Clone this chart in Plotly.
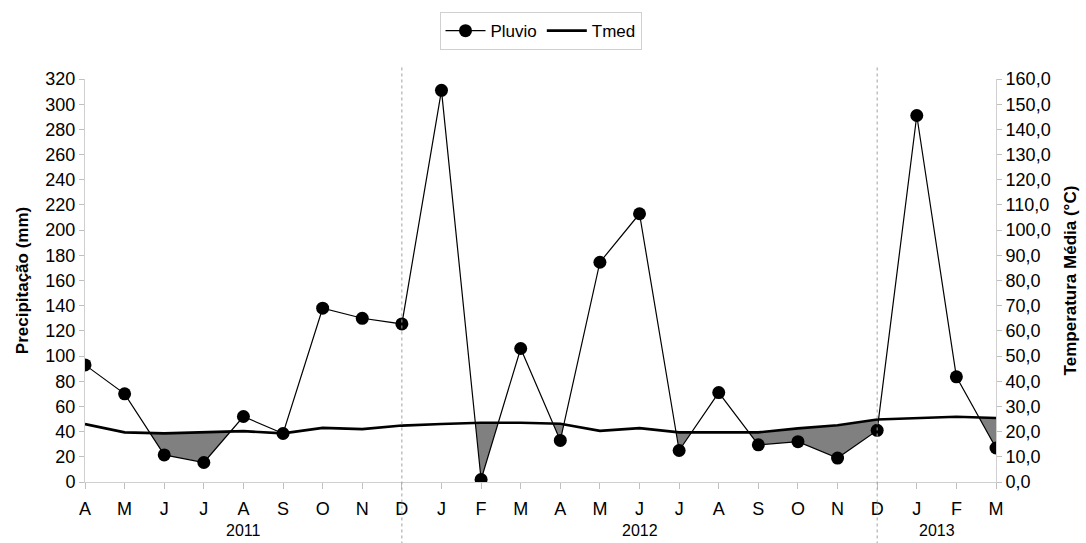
import plotly.graph_objects as go

months = ["A", "M", "J", "J", "A", "S", "O", "N", "D", "J", "F", "M",
          "A", "M", "J", "J", "A", "S", "O", "N", "D", "J", "F", "M"]
pluvio = [93, 70, 21.5, 15.5, 52, 38.5, 138, 130, 125.5, 311, 2, 106,
          33, 174.5, 213, 25, 71, 29.5, 32, 19, 41, 291, 83.5, 27]
tmed = [23.0, 19.7, 19.3, 19.7, 20.2, 19.3, 21.5, 21.0, 22.4, 23.0, 23.5, 23.5,
        23.1, 20.3, 21.4, 19.7, 19.7, 19.7, 21.3, 22.5, 24.8, 25.4, 25.9, 25.4]
years = ["2011", "2012", "2013"]
year_pos = [4, 14, 21.5]
divider_pos = [8, 20]

x = list(range(len(months)))
t2 = [v * 2 for v in tmed]  # temperature in left-axis scale

# Build deficit polygons (pluvio below temperature curve)
fx, fy = [], []
poly_top, poly_bot = [], []

def flush():
    global poly_top, poly_bot
    if poly_top:
        pts = poly_top + poly_bot[::-1]
        fx.extend([p[0] for p in pts] + [None])
        fy.extend([p[1] for p in pts] + [None])
    poly_top, poly_bot = [], []

for i in range(len(x)):
    d = t2[i] - pluvio[i]
    if d > 0:
        poly_top.append((x[i], t2[i]))
        poly_bot.append((x[i], pluvio[i]))
    if i < len(x) - 1:
        d2 = t2[i + 1] - pluvio[i + 1]
        if (d > 0) != (d2 > 0):
            f = d / (d - d2)
            cx = x[i] + f
            cy = t2[i] + f * (t2[i + 1] - t2[i])
            poly_top.append((cx, cy))
            poly_bot.append((cx, cy))
            if d > 0:
                flush()
flush()

fig = go.Figure()
fig.add_trace(go.Scatter(x=fx, y=fy, fill="toself", fillcolor="#808080",
                         line=dict(width=0), mode="lines", showlegend=False,
                         hoverinfo="skip"))
fig.add_trace(go.Scatter(x=x, y=pluvio, name="Pluvio", mode="lines+markers",
                         line=dict(color="black", width=1.2),
                         marker=dict(color="black", size=13)))
fig.add_trace(go.Scatter(x=x, y=tmed, name="Tmed", mode="lines", yaxis="y2",
                         line=dict(color="black", width=2.6)))

shapes = []
for p in divider_pos:
    shapes.append(dict(type="line", xref="x", yref="paper", x0=p, x1=p,
                       y0=-0.155, y1=1.035,
                       line=dict(color="#a0a0a0", width=1, dash="dot")))

annotations = [dict(x=p, y=-0.12, xref="x", yref="paper", text=t,
                    showarrow=False, yanchor="middle",
                    font=dict(size=16, color="black"))
               for p, t in zip(year_pos, years)]

font = "Liberation Sans, Arial, sans-serif"
fig.update_layout(
    width=1086, height=543,
    margin=dict(l=85, r=90, t=79, b=61),
    plot_bgcolor="white", paper_bgcolor="white",
    font=dict(family=font, size=18, color="black"),
    separators=",.",
    showlegend=True,
    legend=dict(orientation="h", x=0.5, xanchor="center", y=1.166, yanchor="top",
                bordercolor="#d0d0d0", borderwidth=1, font=dict(size=17),
                itemwidth=40, tracegroupgap=0),
    xaxis=dict(range=[0, 23], tickvals=x, ticktext=months, showgrid=False,
               zeroline=False, showline=True, linecolor="#d0d0d0",
               ticks="outside", ticklen=6, tickcolor="#c0c0c0",
               ticklabelstandoff=4, tickfont=dict(size=18), automargin=False),
    yaxis=dict(range=[0, 320], dtick=20, showgrid=False, zeroline=False,
               showline=True, linecolor="#d0d0d0", ticks="outside",
               ticklen=5, tickcolor="#c0c0c0", tickformat="d",
               tickfont=dict(size=18), automargin=False,
               title=dict(text="<b>Precipitação (mm)</b>", standoff=12,
                          font=dict(size=17))),
    yaxis2=dict(range=[0, 160], dtick=10, overlaying="y", side="right",
                showgrid=False, zeroline=False, showline=True,
                linecolor="#d0d0d0", ticks="outside", ticklen=5,
                tickcolor="#c0c0c0", tickformat=".1f",
                tickfont=dict(size=18), automargin=False,
                title=dict(text="<b>Temperatura Média (°C)</b>", standoff=14,
                           font=dict(size=17))),
    shapes=shapes,
    annotations=annotations,
)

fig.write_html("out.html")
